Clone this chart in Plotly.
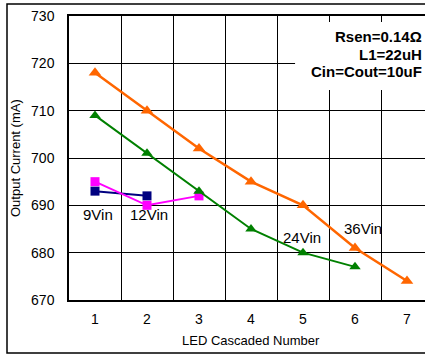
import plotly.graph_objects as go

led_number = [1, 2, 3, 4, 5, 6, 7]
vin36 = [718, 710, 702, 695, 690, 681, 674]
vin24 = [709, 701, 693, 685, 680, 677]
vin12 = [695, 690, 692]
vin9 = [693, 692]
y_ticks = [670, 680, 690, 700, 710, 720, 730]
x_ticks = [1, 2, 3, 4, 5, 6, 7]
series_labels = ["9Vin", "12Vin", "24Vin", "36Vin"]
label_x = [1.06, 2.04, 4.98, 6.15]
label_y = [688, 688, 683.3, 685.2]
info_lines = ["Rsen=0.14Ω", "L1=22uH", "Cin=Cout=10uF"]

FONT = "Liberation Sans, Arial, sans-serif"

fig = go.Figure()
fig.add_trace(go.Scatter(x=led_number[:len(vin9)], y=vin9, mode="lines+markers",
                         line=dict(color="#000080", width=2),
                         marker=dict(symbol="square", size=9, color="#000080")))
fig.add_trace(go.Scatter(x=led_number[:len(vin12)], y=vin12, mode="lines+markers",
                         line=dict(color="#FF00FF", width=2),
                         marker=dict(symbol="square", size=9, color="#FF00FF")))
fig.add_trace(go.Scatter(x=led_number[:len(vin24)], y=vin24, mode="lines+markers",
                         line=dict(color="#008000", width=2),
                         marker=dict(symbol="triangle-up", size=10, color="#008000")))
fig.add_trace(go.Scatter(x=led_number[:len(vin36)], y=vin36, mode="lines+markers",
                         line=dict(color="#FF6600", width=2.5),
                         marker=dict(symbol="triangle-up", size=11, color="#FF6600")))

for t, x, y in zip(series_labels, label_x, label_y):
    fig.add_annotation(x=x, y=y, text=t, showarrow=False, xref="x", yref="y",
                       xanchor="center", yanchor="middle",
                       font=dict(family=FONT, size=15, color="black"))

# white box behind info text
fig.add_shape(type="rect", xref="paper", yref="paper", x0=0.635, x1=1.05,
              y0=0.739, y1=0.979, fillcolor="white", line=dict(width=0), layer="above")
info_y_px = [36, 54, 72]
for t, ypx in zip(info_lines, info_y_px):
    fig.add_annotation(x=0.998, y=(300 - ypx) / 284, xref="paper", yref="paper",
                       xanchor="right", yanchor="middle", text="<b>%s</b>" % t,
                       showarrow=False, font=dict(family=FONT, size=15, color="black"))

# axis titles
fig.add_annotation(x=(15 - 69) / 356, y=0.5, xref="paper", yref="paper", text="Output Current (mA)",
                   textangle=-90, showarrow=False, xanchor="center", yanchor="middle",
                   font=dict(family=FONT, size=13, color="black"))
fig.add_annotation(x=4, y=(300 - 340) / 284, xref="x", yref="paper", text="LED Cascaded Number",
                   showarrow=False, xanchor="center", yanchor="middle",
                   font=dict(family=FONT, size=13, color="black"))

# outer frame
fig.add_shape(type="rect", xref="paper", yref="paper", x0=(7 - 69) / 356, x1=1.2,
              y0=(300 - 353) / 284, y1=(300 - 4) / 284, line=dict(color="black", width=1.5),
              fillcolor="rgba(0,0,0,0)", layer="above")

fig.update_layout(
    width=425, height=356,
    margin=dict(l=69, r=0, t=16, b=56, autoexpand=False),
    paper_bgcolor="white", plot_bgcolor="white",
    showlegend=False,
    font=dict(family=FONT, size=14, color="black"),
    xaxis=dict(range=[0.5, 0.5 + 356 / 52], tickvals=x_ticks, showgrid=False, zeroline=False,
               showline=True, linecolor="black", linewidth=1.5, mirror=True, ticks="",
               ticklabelstandoff=5, tickfont=dict(family=FONT, size=14),
               minor=dict(tickvals=[1.5, 2.5, 3.5, 4.5, 5.5, 6.5], showgrid=True,
                          gridcolor="black", gridwidth=1)),
    yaxis=dict(range=[670, 730], tickvals=y_ticks, showgrid=True, gridcolor="black", gridwidth=1,
               zeroline=False, showline=True, linecolor="black", linewidth=1.5, ticks="",
               ticklabelstandoff=10, tickfont=dict(family=FONT, size=14)),
)

fig.write_html("out.html", config={"displayModeBar": False},
               post_script="document.body.style.margin='0';document.body.style.overflow='hidden';")
